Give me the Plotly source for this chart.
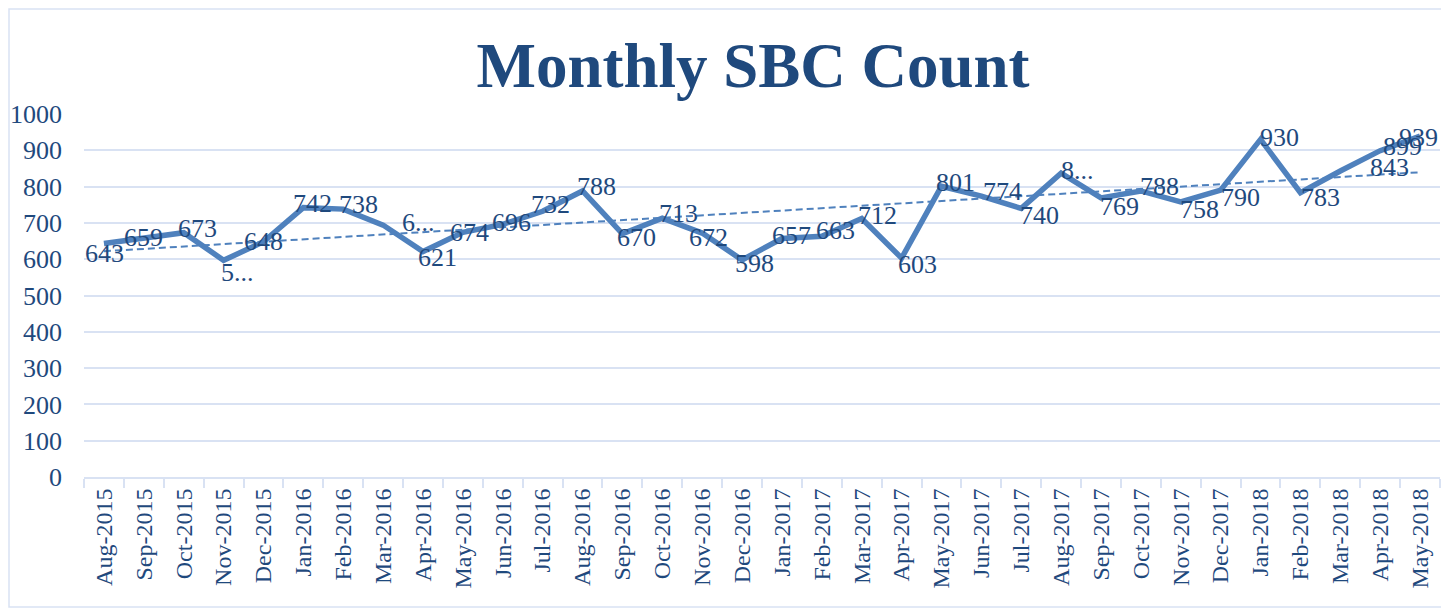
import numpy as np
import plotly.graph_objects as go

months = ["Aug-2015", "Sep-2015", "Oct-2015", "Nov-2015", "Dec-2015",
          "Jan-2016", "Feb-2016", "Mar-2016", "Apr-2016", "May-2016", "Jun-2016",
          "Jul-2016", "Aug-2016", "Sep-2016", "Oct-2016", "Nov-2016", "Dec-2016",
          "Jan-2017", "Feb-2017", "Mar-2017", "Apr-2017", "May-2017", "Jun-2017",
          "Jul-2017", "Aug-2017", "Sep-2017", "Oct-2017", "Nov-2017", "Dec-2017",
          "Jan-2018", "Feb-2018", "Mar-2018", "Apr-2018", "May-2018"]
counts = [643, 659, 673, 597, 648,
          742, 738, 694, 621, 674, 696,
          732, 788, 670, 713, 672, 598,
          657, 663, 712, 603, 801, 774,
          740, 837, 769, 788, 758, 790,
          930, 783, 843, 899, 939]
# label texts as shown (some truncated in the original)
label_texts = ["643", "659", "673", "5...", "648",
               "742", "738", "6...", "621", "674", "696",
               "732", "788", "670", "713", "672", "598",
               "657", "663", "712", "603", "801", "774",
               "740", "8...", "769", "788", "758", "790",
               "930", "783", "843", "899", "939"]
y_ticks = list(range(0, 1001, 100))

# label offsets (style): pixels
label_dx = [1, 0, 14, 14, 0, 9, 15, 35, 14, 7, 9, 8, 14, 14, 16, 6, 12,
            10, 14, 16, 16, 14, 21, 18, 16, 18, 19, 19, 20, 19, 20, 49, 22, -2]
label_dy = [-10, 0, 4, -12, 0, 4, 5, 3, -6, 0, 2, 7, 4, -4, 5, -4, -4,
            3, 6, 3, -6, 4, 5, -7, 3, -9, 4, -8, -7, 2, -5, 3, 4, -1]

DARK = "#1F497D"
LINE = "#4F81BD"
GRID = "#D9E2F3"
SERIF = "Liberation Serif, Times New Roman, serif"

idx = np.arange(len(counts))
slope, intercept = np.polyfit(idx, counts, 1)
trend = slope * idx + intercept

fig = go.Figure()
fig.add_trace(go.Scatter(x=months, y=counts, mode="lines",
                         line=dict(color=LINE, width=5.5), hoverinfo="skip"))
fig.add_trace(go.Scatter(x=months, y=list(trend), mode="lines",
                         line=dict(color=LINE, width=2, dash="7px,4px"), hoverinfo="skip"))

for m, v, t, dx, dy in zip(months, counts, label_texts, label_dx, label_dy):
    fig.add_annotation(x=m, y=v, text=t, showarrow=False, xshift=dx, yshift=dy,
                       font=dict(family=SERIF, size=26, color=DARK))

# the page body adds an 8px offset; the figure fills the rest of the window
W, H = 1441, 602
L, R, T, B = 76, 9, 106, 133
pw, ph = W - L - R, H - T - B
bx0, bx1, by0, by1 = 1, 1438, 1, 599
fig.add_shape(type="rect", xref="paper", yref="paper",
              x0=(bx0 - L) / pw, x1=(bx1 - L) / pw,
              y0=(H - B - by1) / ph, y1=(H - B - by0) / ph,
              line=dict(color=GRID, width=1.5), layer="below")

fig.update_layout(
    width=W, height=H,
    margin=dict(l=L, r=R, t=T, b=B, autoexpand=False),
    paper_bgcolor="white", plot_bgcolor="white",
    showlegend=False,
    title=dict(text="<b>Monthly SBC Count</b>", x=(745 - L) / pw, xref="paper",
               xanchor="center", y=1 - 57 / H, yanchor="middle",
               font=dict(family=SERIF, size=63, color=DARK)),
    xaxis=dict(type="category", range=[-0.5, len(months) - 0.5], automargin=False,
               showgrid=False, showline=True, linecolor=GRID, linewidth=2,
               ticks="outside", tickson="boundaries", ticklen=9, tickcolor=GRID,
               tickwidth=2, tickangle=-90,
               tickfont=dict(family=SERIF, size=24, color=DARK)),
    yaxis=dict(range=[0, 1000], tickvals=y_ticks, showgrid=True, gridcolor=GRID,
               gridwidth=2, zeroline=False, showline=False, automargin=False,
               ticklabelstandoff=21,
               tickfont=dict(family=SERIF, size=26, color=DARK)),
)

fig.write_html("out.html", config={"displayModeBar": False})
